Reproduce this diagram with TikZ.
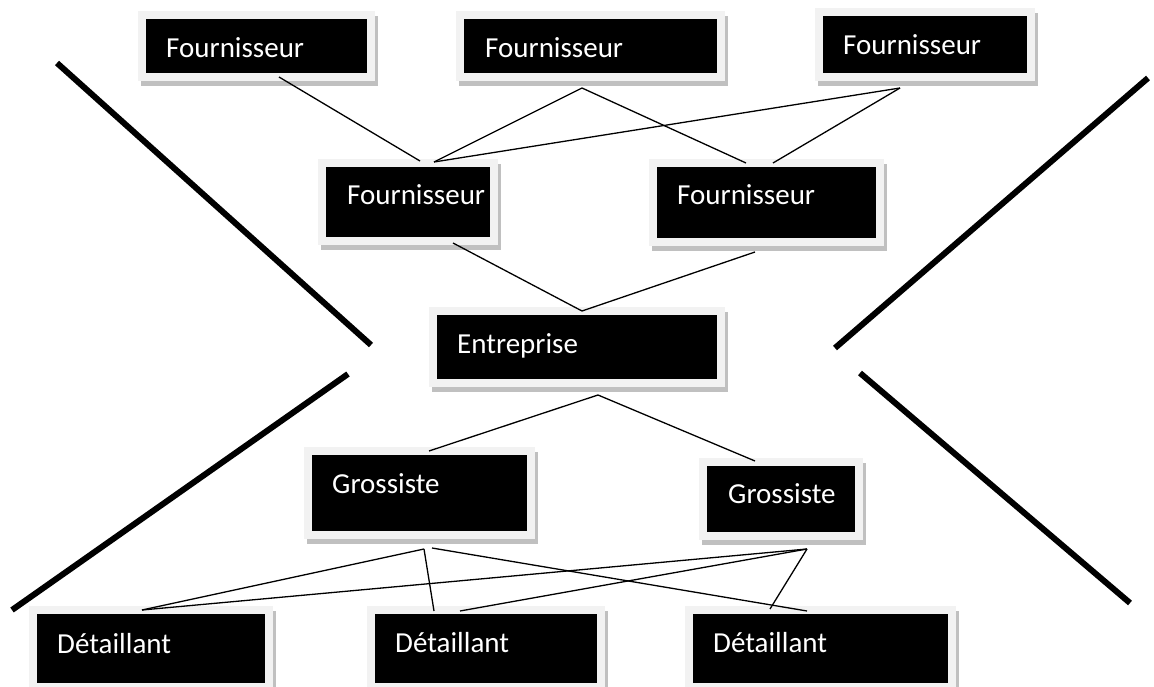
\documentclass[tikz,border=0pt]{standalone}
\usepackage{fontspec}
\setmainfont{Carlito}
\definecolor{framegray}{HTML}{F2F2F2}
\definecolor{shadegray}{HTML}{C0C0C0}
\tikzset{
  blackbox/.style={fill=black, draw=none, inner sep=0pt, anchor=north west},
  boxlabel/.style={text=white, inner sep=0pt, anchor=base west,
                   font=\fontsize{29}{34}\selectfont},
  link/.style={line width=1.3pt, black},
  bar/.style={line width=6pt, black},
}
% #1 name, #2-#5 corners of the black face, #6-#7 text origin, #8 text
\newcommand\chainbox[8]{%
  \fill[shadegray] ({#2-5},{#3-3}) rectangle ({#4+11},{#5+13});
  \fill[framegray] ({#2-8},{#3-8}) rectangle ({#4+8},{#5+8});
  \node[blackbox, minimum width={(#4-#2)*1pt}, minimum height={(#5-#3)*1pt}] (#1) at (#2,#3) {};
  \node[boxlabel] (#1-t) at (#6,#7) {#8};
}
\begin{document}
\begin{tikzpicture}[x=1pt,y=-1pt]
\useasboundingbox (0,0) rectangle (1154,687);
\fill[white] (0,0) rectangle (1154,687);

% boxes
\chainbox{f1}{146}{19}{367}{73}{166}{58}{Fournisseur}
\chainbox{f2}{464}{19}{717}{73}{485}{58}{Fournisseur}
\chainbox{f3}{823}{16}{1027}{73}{843}{55}{Fournisseur}
\chainbox{f4}{326}{167}{490}{237}{347}{205}{Fournisseur}
\chainbox{f5}{657}{167}{876}{238}{677}{205}{Fournisseur}
\chainbox{ent}{437}{315}{717}{379}{457}{353}{Entreprise}
\chainbox{g1}{312}{455}{527}{531}{332}{493}{Grossiste}
\chainbox{g2}{707}{466}{855}{532}{728}{503}{Grossiste}
\chainbox{d1}{37}{614}{265}{683}{57}{653}{Détaillant}
\chainbox{d2}{375}{614}{597}{683}{395}{652}{Détaillant}
\chainbox{d3}{693}{614}{948}{683}{713}{652}{Détaillant}

% connection points
\coordinate (f1b) at (279,77);
\coordinate (f2b) at (582,88);
\coordinate (f3b) at (900,88);
\coordinate (f4a) at (420,161);
\coordinate (f4c) at (434,162);
\coordinate (f4b) at (453,243);
\coordinate (f5a) at (746,163);
\coordinate (f5c) at (773,163);
\coordinate (f5b) at (755,252);
\coordinate (entt) at (582,311);
\coordinate (entb) at (598,395);
\coordinate (g1t) at (429,451);
\coordinate (g2t) at (755,461);
\coordinate (g1l) at (424,549);
\coordinate (g1r) at (432,548);
\coordinate (g2b) at (807,549);
\coordinate (d1t) at (142,610);
\coordinate (d2a) at (434,611);
\coordinate (d2c) at (460,611);
\coordinate (d3a) at (770,609);
\coordinate (d3c) at (807,611);

% connectors
\draw[link] (f1b) -- (f4a);
\draw[link] (f2b) -- (f4c);
\draw[link] (f2b) -- (f5a);
\draw[link] (f3b) -- (f4c);
\draw[link] (f3b) -- (f5c);
\draw[link] (f4b) -- (entt) -- (f5b);
\draw[link] (g1t) -- (entb) -- (g2t);
\draw[link] (g1l) -- (d1t);
\draw[link] (g1l) -- (d2a);
\draw[link] (g1r) -- (d3c);
\draw[link] (g2b) -- (d1t);
\draw[link] (g2b) -- (d2c);
\draw[link] (g2b) -- (d3a);

% the four diagonal bars
\coordinate (ba1) at (57,63);
\coordinate (ba2) at (371,345);
\coordinate (bb1) at (12,610);
\coordinate (bb2) at (348,374);
\coordinate (bc1) at (1148,78);
\coordinate (bc2) at (835,348);
\coordinate (bd1) at (860,373);
\coordinate (bd2) at (1130,603);
\draw[bar] (ba1) -- (ba2);
\draw[bar] (bb1) -- (bb2);
\draw[bar] (bc1) -- (bc2);
\draw[bar] (bd1) -- (bd2);
\end{tikzpicture}
\end{document}
